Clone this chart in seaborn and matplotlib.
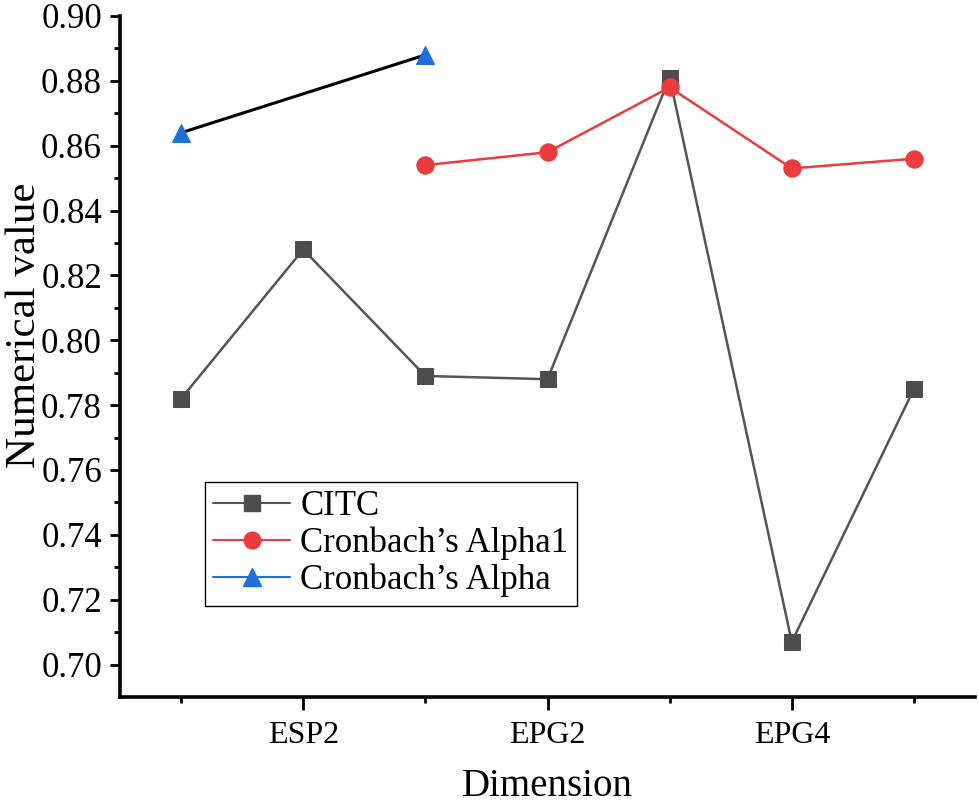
import numpy as np
import pandas as pd
import matplotlib
matplotlib.use("Agg")
import matplotlib.pyplot as plt
from matplotlib.lines import Line2D
from matplotlib.ticker import FixedLocator
import seaborn as sns

# Dimension categories (only every second one is labelled on the axis)
dimensions = ["ESP1", "ESP2", "EPG1", "EPG2", "EPG3", "EPG4", "EPG5"]
tick_labels = ["ESP2", "EPG2", "EPG4"]

# Values
citc = [0.782, 0.828, 0.789, 0.788, 0.881, 0.707, 0.785]
alpha1 = [np.nan, np.nan, 0.854, 0.858, 0.878, 0.853, 0.856]
alpha = [0.864, np.nan, 0.888, np.nan, np.nan, np.nan, np.nan]

sns.set_style("white")
plt.rcParams["font.family"] = ["Liberation Serif", "DejaVu Serif"]
plt.rcParams["text.color"] = "black"
plt.rcParams["axes.labelcolor"] = "black"
plt.rcParams["xtick.color"] = "black"
plt.rcParams["ytick.color"] = "black"

pos = np.arange(1, len(dimensions) + 1)
df = pd.DataFrame({"pos": pos, "dimension": dimensions,
                   "CITC": citc, "Alpha1": alpha1, "Alpha": alpha})

fig = plt.figure(figsize=(9.79, 8.08), dpi=100)
ax = fig.add_axes([120 / 979, 1 - 697 / 808, 855 / 979, 681 / 808])

grey = "#4d4d4d"
red = "#ec3b3d"
blue = "#1c6fdc"

sns.lineplot(data=df.dropna(subset=["CITC"]), x="pos", y="CITC", ax=ax,
             color="#555555", linewidth=1.8, marker="s", markersize=11.5,
             markerfacecolor=grey, markeredgecolor=grey, estimator=None)
sns.lineplot(data=df.dropna(subset=["Alpha1"]), x="pos", y="Alpha1", ax=ax,
             color=red, linewidth=1.8, marker="o", markersize=12.5,
             markerfacecolor=red, markeredgecolor=red, estimator=None)
sns.lineplot(data=df.dropna(subset=["Alpha"]), x="pos", y="Alpha", ax=ax,
             color="black", linewidth=2.2, marker="^", markersize=13,
             markerfacecolor=blue, markeredgecolor=blue, estimator=None)

ax.set_xlim(0.5, 7.5)
ax.set_ylim(0.69, 0.90)

# x ticks: labelled majors, unlabelled minors in between
ax.xaxis.set_major_locator(FixedLocator([2, 4, 6]))
ax.set_xticklabels(tick_labels)
ax.xaxis.set_minor_locator(FixedLocator([1, 3, 5, 7]))
ax.yaxis.set_major_locator(FixedLocator(np.round(np.arange(0.70, 0.901, 0.02), 2)))
ax.yaxis.set_minor_locator(FixedLocator(np.round(np.arange(0.71, 0.90, 0.02), 2)))
ax.yaxis.set_major_formatter(matplotlib.ticker.FormatStrFormatter("%.2f"))

ax.tick_params(axis="x", which="major", direction="out", length=9, width=2,
               labelsize=23, pad=8, bottom=True, color="black", labelcolor="black")
ax.tick_params(axis="x", which="minor", direction="out", length=4.5, width=2,
               bottom=True, color="black")
ax.tick_params(axis="y", which="major", direction="out", length=7, width=2,
               labelsize=25, pad=6, left=True, color="black", labelcolor="black")
ax.tick_params(axis="y", which="minor", direction="out", length=4, width=2,
               left=True, color="black")

for side in ["top", "right"]:
    ax.spines[side].set_visible(False)
for side in ["left", "bottom"]:
    ax.spines[side].set_color("black")
    ax.spines[side].set_linewidth(2.6)

ax.set_xlabel("Dimension", fontsize=28, color="black")
ax.set_ylabel("Numerical value", fontsize=31, color="black")
ax.xaxis.set_label_coords(0.5, -0.104)
ax.yaxis.set_label_coords(-0.089, 0.546)

handles = [
    Line2D([], [], color="#555555", linewidth=1.5, marker="s", markersize=11,
           markerfacecolor=grey, markeredgecolor=grey),
    Line2D([], [], color=red, linewidth=1.5, marker="o", markersize=12,
           markerfacecolor=red, markeredgecolor=red),
    Line2D([], [], color=blue, linewidth=1.5, marker="^", markersize=13,
           markerfacecolor=blue, markeredgecolor=blue),
]
labels = ["CITC", "Cronbach\u2019s Alpha1", "Cronbach\u2019s Alpha"]
leg = ax.legend(handles, labels, loc="upper left", bbox_to_anchor=(0.099, 0.316),
                borderaxespad=0, fontsize=25, frameon=True, fancybox=False,
                handlelength=2.2, handletextpad=0.3, labelspacing=0.1,
                borderpad=0.25, labelcolor="black")
leg.get_frame().set_edgecolor("black")
leg.get_frame().set_linewidth(1.0)
leg.get_frame().set_alpha(1)

fig.savefig("out.png", dpi=100, facecolor="white")
